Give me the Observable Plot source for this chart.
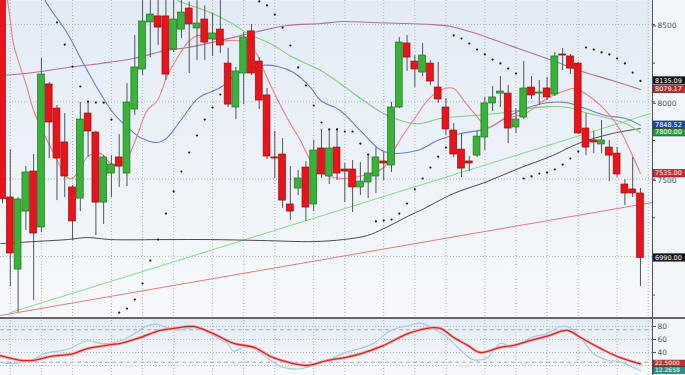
<!DOCTYPE html>
<html><head><meta charset="utf-8">
<script src="https://cdn.jsdelivr.net/npm/d3@7"></script>
<script src="https://cdn.jsdelivr.net/npm/@observablehq/plot@0.6"></script>
<style>
html,body{margin:0;padding:0;background:#f2f6fb;}
#chart{width:685px;height:375px;overflow:hidden;}
#chart svg{display:block;}
</style></head><body><div id="chart"></div>
<script>
// ---- OHLC (weekly candles, index 0..82) ----
const open  = [8700,7381,6915,7290,7549,7187,8112,7956,7737,7446,7374,7924,7801,7348,7536,7640,7536,7950,8209,8513,8552,8552,8338,8467,8603,8474,8532,8403,8467,8247,7963,8183,8455,8260,8041,7640,7659,7336,7439,7575,7336,7698,7517,7704,7562,7562,7446,7478,7517,7614,7588,7963,8377,8260,8189,8247,8092,7963,7814,7691,7614,7652,7769,7989,8053,8053,7834,7898,8092,8053,8086,8047,8306,8293,8247,7827,7750,7724,7704,7665,7465,7433,7407];
const high  = [8720,7691,7380,7581,7659,8280,8125,7976,7924,7458,7995,8002,7810,7652,7652,7788,8118,8429,8660,8660,8660,8660,8660,8660,8645,8660,8620,8571,8660,8345,8222,8448,8500,8286,8086,7808,7762,7581,7555,7614,7750,7821,7814,7827,7601,7620,7607,7659,7704,7672,7995,8416,8429,8299,8377,8267,8254,8021,7859,7795,7646,7808,8028,8099,8163,8105,7956,8260,8163,8138,8157,8319,8345,8306,8254,7924,7808,7879,7750,7704,7497,7640,7439];
const low   = [7340,6805,6637,7167,6715,7154,7633,7361,7381,7103,7290,7640,7135,7206,7381,7446,7452,7911,8170,8286,8364,8138,8319,8409,8183,8267,8267,8293,8312,7963,7885,7982,8170,7950,7627,7504,7310,7232,7394,7226,7290,7504,7465,7491,7348,7284,7394,7374,7407,7491,7543,7957,8196,8092,8163,8105,7989,7782,7640,7510,7549,7640,7685,7937,7963,7730,7795,7885,8015,7976,8008,8034,8202,8176,7788,7652,7665,7665,7484,7510,7329,7381,6805];
const close = [7370,7019,7368,7543,7148,8176,7866,7633,7517,7226,7885,7808,7348,7640,7594,7581,7995,8222,8519,8564,8480,8176,8532,8577,8500,8506,8383,8442,8364,7982,8196,8416,8183,8008,7646,7633,7361,7290,7504,7316,7685,7530,7698,7536,7549,7446,7484,7536,7640,7601,7963,8383,8286,8209,8299,8131,8015,7821,7659,7568,7601,7775,7989,8028,8066,7827,7885,8086,8041,8060,8028,8293,8299,8215,7795,7704,7737,7750,7652,7530,7407,7407,6990];

// ---- Parabolic SAR ----
const sarIndex = [7,8,9,10,11,12,13,14,15,16,17,18,19,20,21,22,23,24,25,26,27,28,33,34,35,36,37,38,39,40,41,42,43,44,45,46,47,48,49,50,51,52,53,54,55,56,57,58,59,60,61,62,63,64,65,66,67,68,69,70,71,72,73,74,75,76,77,78,79,80,81,82];
const sarValue = [8513,8370,8228,8099,8002,7995,7995,7885,6637,6663,6721,6825,6973,7109,7277,7420,7549,7672,7782,7885,7963,8047,8649,8623,8564,8480,8364,8222,8105,7976,7866,7821,7821,7808,7808,7730,7659,7226,7232,7238,7277,7342,7433,7504,7575,7646,7704,8429,8409,8377,8338,8306,8273,8248,8215,8183,7504,7517,7536,7542,7562,7594,7633,7678,8351,8338,8319,8306,8280,8248,8189,8135.09];

// ---- Moving averages [index, value] ----
const maRed = [[0.3,8760],[0.64,8655],[1.0,8526],[1.4,8377],[2.3,8222],[3.0,8118],[4.0,7944],[5.3,7795],[6.6,7665],[8.3,7510],[9.0,7504],[10.0,7575],[11.1,7652],[12.6,7665],[13.9,7601],[14.9,7588],[16.1,7640],[17.4,7795],[18.6,7944],[19.9,8008],[21.2,8170],[22.5,8286],[23.8,8383],[25.1,8429],[26.4,8416],[28.0,8396],[29.7,8396],[31.5,8383],[32.8,8299],[33.6,8202],[35.4,8008],[37.0,7859],[38.3,7750],[39.6,7620],[40.9,7542],[43.4,7504],[45.1,7510],[47.3,7536],[49.0,7575],[50.8,7730],[52.8,7879],[55.0,8028],[56.9,8086],[58.0,8086],[59.3,8008],[61.1,7898],[62.3,7834],[64.7,7892],[67.2,7924],[70.2,8028],[72.4,8073],[73.4,8086],[74.9,8053],[77.5,7944],[79.2,7834],[80.5,7704],[82,7535]];
const maBlue = [[5.2,8720],[5.5,8655],[8.35,8442],[10.4,8248],[12.6,8053],[14.3,7924],[16.1,7834],[17.7,7769],[19.9,7737],[21.0,7760],[22.9,7879],[25.2,8025],[28.0,8092],[30.2,8183],[32.3,8222],[33.2,8235],[35.4,8228],[37.4,8189],[39.6,8092],[40.9,8008],[43.4,7944],[46.0,7814],[49.0,7678],[53.3,7685],[55.9,7750],[58.9,7795],[62.3,7827],[64.7,7898],[67.6,7963],[70.2,7995],[72.4,7995],[74.9,7956],[77.5,7911],[80.1,7892],[82,7848.52]];
const maGreen = [[22.3,8720],[22.6,8655],[23.1,8642],[26.1,8590],[29.3,8513],[31.5,8442],[34.4,8377],[37.4,8286],[40.9,8202],[43.4,8118],[46.4,8008],[49.0,7924],[52.1,7866],[53.7,7859],[56.3,7892],[58.9,7905],[62.1,7918],[64.7,7931],[67.6,7956],[70.2,7969],[72.7,7963],[74.9,7931],[77.5,7898],[80.1,7860],[82,7800]];
const maPurple = [[-0.26,8170],[4.0,8189],[8.35,8222],[12.6,8248],[16.8,8280],[21.0,8332],[23.8,8351],[28.0,8396],[32.3,8448],[36.6,8493],[40.9,8506],[43.8,8519],[47.3,8513],[51.5,8506],[55.0,8500],[57.6,8487],[60.5,8448],[62.7,8409],[66.3,8345],[70.7,8267],[74.9,8189],[78.4,8138],[82,8079.17]];
const maGray = [[-0.26,7083],[4.0,7096],[8.35,7109],[10.9,7122],[13.9,7109],[21.0,7109],[26.7,7109],[33.2,7103],[40.0,7096],[43.8,7109],[46.9,7135],[49.0,7180],[52.8,7277],[53.7,7297],[58.0,7407],[62.3,7484],[66.3,7568],[70.7,7652],[74.0,7730],[78.4,7795],[82,7827]];

// ---- Trend lines ----
const trendGreen = [[1.03,6637],[83.3,7924]];
const trendRed = [[-0.26,6618],[83.55,7349]];

// ---- Stochastic ----
const stochD = [[-0.26,35],[2.3,28],[4.0,28],[6.2,34],[9.0,38],[10.9,46],[13.9,52],[15.2,54],[17.7,63],[20.3,74],[22.0,77],[24.5,80],[27.1,69],[29.7,54],[32.3,48],[34.8,32],[37.4,23],[39.2,20],[41.8,28],[44.3,33],[46.0,38],[49.0,51],[52.1,69],[55.0,78],[56.3,77],[58.0,63],[59.8,51],[61.4,40],[64.0,48],[65.7,51],[68.3,60],[70.0,65],[72.6,74],[74.3,63],[76.9,46],[79.4,32],[82,22.5]];
const stochK = [[-0.26,25],[1.0,23],[4.0,29],[5.3,38],[8.4,45],[10.9,58],[12.6,54],[13.9,54],[16.1,63],[18.6,81],[19.9,83],[22.0,75],[25.5,78],[27.6,63],[28.9,54],[29.7,42],[31.0,48],[32.3,46],[34.1,31],[36.1,17],[38.3,15],[40.5,23],[42.5,32],[44.3,41],[45.1,43],[47.7,54],[49.9,74],[52.1,81],[53.7,85],[55.4,77],[57.2,63],[58.9,43],[60.5,29],[62.3,32],[64.0,54],[65.7,48],[67.9,63],[70.0,69],[71.7,80],[73.0,78],[74.3,63],[76.0,38],[77.8,28],[79.4,26],[81.1,17],[82,12.2658]];

// ---- Ticks ----
const monthTicks = [1,5,9,14,18,22,27,31,35,40,44,49,53,57,62,66,70,74,79,83];
const priceTickLabels = [7500,8000,8500];
const priceGrid = [7000,7500,8000,8500];
const priceMinorTicks = [6750,7000,7250,7500,7750,8000,8250,8500];
const stochTickLabels = [40,60,80];
const stochGrid = [20,40,60,80];
const stochBands = [25,75];

const xDomain = [-0.26, 83.55];
const candles = open.map((o, i) => ({i, o, h: high[i], l: low[i], c: close[i], up: close[i] >= o}));
const sar = sarIndex.map((i, k) => ({i, v: sarValue[k]}));
const last = a => a[a.length - 1][1];

function defsMark(id) {
  return () => {
    const g = document.createElementNS("http://www.w3.org/2000/svg", "g");
    g.innerHTML = `<defs><linearGradient id="${id}" x1="0" y1="0" x2="0" y2="1"><stop offset="0" stop-color="#e2ebf5"/><stop offset="1" stop-color="#f7f9fc"/></linearGradient></defs>`;
    return g;
  };
}
function axisLine(top) {
  return (index, scales, values, dims) => {
    const g = d3.create("svg:g");
    const x = dims.width - dims.marginRight + 0.5;
    g.append("line").attr("x1", x).attr("x2", x).attr("y1", 0).attr("y2", dims.height).attr("stroke", "#555").attr("stroke-width", 1);
    if (top) g.append("line").attr("x1", 0).attr("x2", dims.width).attr("y1", 1).attr("y2", 1).attr("stroke", "#666").attr("stroke-width", 2);
    return g.node();
  };
}
function valueLabels(items, h, fs) {
  return (index, scales, values, dims) => {
    const g = d3.create("svg:g");
    const x0 = dims.width - dims.marginRight + 1;
    for (const it of items) {
      const y = scales.y(it.v);
      g.append("rect").attr("x", x0).attr("y", y - h / 2).attr("width", 40).attr("height", h)
        .attr("fill", it.fill).attr("stroke", "#333").attr("stroke-width", 0.6);
      g.append("text").attr("x", x0 + 2).attr("y", y).attr("dy", "0.35em").attr("fill", "#fff")
        .attr("text-anchor", "start")
        .attr("font-size", fs).attr("font-family", "DejaVu Sans, sans-serif").text(it.label);
    }
    return g.node();
  };
}

const lineOpts = (stroke, w) => ({x: d => d[0], y: d => d[1], stroke, strokeWidth: w, curve: "catmull-rom", clip: true});
const dotted = {stroke: "#aeb6bf", strokeOpacity: 1, strokeDasharray: "1,2"};

const main = Plot.plot({
  width: 685, height: 317,
  marginLeft: 0, marginRight: 33, marginTop: 0, marginBottom: 0,
  x: {domain: xDomain, axis: null},
  y: {domain: [6605, 8655], axis: null},
  color: {type: "identity"},
  style: {background: "#f2f6fb", fontFamily: "DejaVu Sans, sans-serif"},
  marks: [
    defsMark("bgMain"),
    Plot.frame({fill: "url(#bgMain)", stroke: "none"}),
    Plot.gridY(priceGrid, dotted),
    Plot.gridX(monthTicks, dotted),
    Plot.line(trendRed, {x: d => d[0], y: d => d[1], stroke: "#e57b7b", strokeWidth: 1, clip: true}),
    Plot.line(trendGreen, {x: d => d[0], y: d => d[1], stroke: "#86dd86", strokeWidth: 1, clip: true}),
    Plot.line(maGray, lineOpts("#4a4a4a", 1)),
    Plot.line(maPurple, lineOpts("#b5728f", 1.1)),
    Plot.line(maGreen, lineOpts("#80cf80", 1.1)),
    Plot.line(maBlue, lineOpts("#6f80cc", 1.1)),
    Plot.line(maRed, lineOpts("#ef7f7f", 1.1)),
    Plot.ruleX(candles, {x: "i", y1: "l", y2: "h", stroke: "#555", strokeWidth: 1, clip: true}),
    Plot.rect(candles, {x1: d => d.i - 0.44, x2: d => d.i + 0.44, y1: "o", y2: "c",
      fill: d => d.up ? "#38b338" : "#e8141c", stroke: d => d.up ? "#23702a" : "#981010", strokeWidth: 0.7, clip: true}),
    Plot.dot(sar, {x: "i", y: "v", r: 1.1, fill: "#1a1a1a", stroke: "none", clip: true}),
    axisLine(false),
    Plot.axisY(priceMinorTicks, {anchor: "right", tickSize: 2, text: null, stroke: "#555"}),
    Plot.axisY(priceTickLabels, {anchor: "right", tickSize: 3, tickPadding: 2, fontSize: 7.5, dy: 1.5, fill: "#555", stroke: "#555", tickFormat: d => String(d), label: null}),
    valueLabels([
      {v: sarValue[sarValue.length - 1], fill: "#151515", label: sarValue[sarValue.length - 1].toFixed(2)},
      {v: last(maPurple), fill: "#c0262c", label: last(maPurple).toFixed(2)},
      {v: last(maBlue), fill: "#1d48b0", label: last(maBlue).toFixed(2)},
      {v: last(maGreen), fill: "#22a03c", label: last(maGreen).toFixed(2)},
      {v: last(maRed), fill: "#d8262c", label: last(maRed).toFixed(2)},
      {v: close[close.length - 1], fill: "#151515", label: close[close.length - 1].toFixed(2)}
    ], 7.5, 6.5)
  ]
});

const stoch = Plot.plot({
  width: 685, height: 58,
  marginLeft: 0, marginRight: 33, marginTop: 0, marginBottom: 0,
  x: {domain: xDomain, axis: null},
  y: {domain: [4.6, 93.8], axis: null},
  style: {background: "#f2f6fb", fontFamily: "DejaVu Sans, sans-serif"},
  marks: [
    defsMark("bgStoch"),
    Plot.frame({fill: "url(#bgStoch)", stroke: "none"}),
    Plot.gridY(stochGrid, dotted),
    Plot.gridX(monthTicks, dotted),
    Plot.ruleY(stochBands, {stroke: "#9a9a9a", strokeDasharray: "4,3", strokeWidth: 0.8}),
    Plot.line(stochK, lineOpts("#a6cedd", 1.2)),
    Plot.line(stochD, lineOpts("#f4b0b0", 3)),
    Plot.line(stochD, lineOpts("#d42424", 1.3)),
    axisLine(true),
    Plot.axisY(stochGrid, {anchor: "right", tickSize: 3, text: null, stroke: "#555"}),
    Plot.axisY(stochTickLabels, {anchor: "right", tickSize: 3, tickPadding: 2, fontSize: 7.5, fill: "#555", stroke: "#555", label: null}),
    valueLabels([
      {v: last(stochD), fill: "#d8262c", label: last(stochD).toFixed(4)},
      {v: last(stochK), fill: "#2f8f8f", label: last(stochK).toFixed(4)}
    ], 6.5, 6)
  ]
});

const root = document.getElementById("chart");
root.appendChild(main);
root.appendChild(stoch);
</script>
</body></html>
